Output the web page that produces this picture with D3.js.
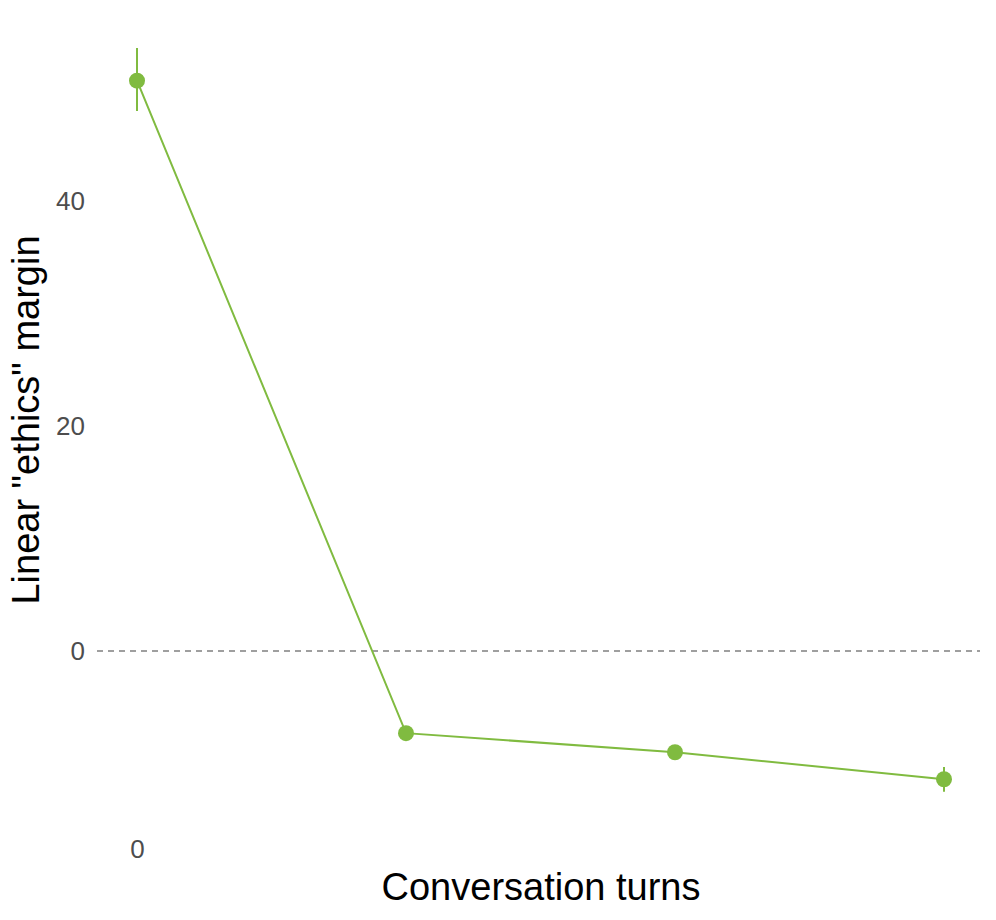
<!DOCTYPE html>
<html><head><meta charset="utf-8">
<script src="https://cdn.jsdelivr.net/npm/d3@7"></script>
<style>body{margin:0;background:#fff}</style></head>
<body><svg id="c" width="996" height="920"></svg>
<script>
const turns = [0, 1, 2, 3];
const margin = [50.7, -7.3, -9.0, -11.4];
const errLow = [48.0, -7.7, -9.4, -12.5];
const errHigh = [53.6, -6.9, -8.6, -10.3];
const xTicks = [0];
const yTicks = [0, 20, 40];

const svg = d3.select("#c");
const x = d3.scaleLinear().domain([0, 3]).range([137, 944]);
const y = d3.scaleLinear().domain([0, 40]).range([651, 201]);
const green = "#80bb40";
const font = "Liberation Sans, Arial, sans-serif";

svg.append("line").attr("x1", 97).attr("x2", 980).attr("y1", y(0)).attr("y2", y(0))
  .attr("stroke", "#808080").attr("stroke-width", 1.6).attr("stroke-dasharray", "6,5");

const ya = svg.append("g").attr("transform", "translate(89,0)")
  .call(d3.axisLeft(y).tickValues(yTicks).tickSize(0).tickPadding(4).tickFormat(d3.format("d")));
ya.select(".domain").remove();
ya.selectAll("text").attr("font-size", 26).attr("font-family", font).attr("fill", "#4d4d4d");

const xa = svg.append("g").attr("transform", "translate(0,836)")
  .call(d3.axisBottom(x).tickValues(xTicks).tickSize(0).tickPadding(4).tickFormat(d3.format("d")));
xa.select(".domain").remove();
xa.selectAll("text").attr("font-size", 26).attr("font-family", font).attr("fill", "#4d4d4d");

svg.append("path").datum(turns)
  .attr("d", d3.line().x(d => x(d)).y((d, i) => y(margin[i])))
  .attr("fill", "none").attr("stroke", green).attr("stroke-width", 2);

svg.selectAll(".eb").data(turns).enter().append("line")
  .attr("x1", d => x(d)).attr("x2", d => x(d))
  .attr("y1", (d, i) => y(errLow[i])).attr("y2", (d, i) => y(errHigh[i]))
  .attr("stroke", green).attr("stroke-width", 2);

svg.selectAll(".pt").data(turns).enter().append("circle")
  .attr("cx", d => x(d)).attr("cy", (d, i) => y(margin[i])).attr("r", 8).attr("fill", green);

svg.append("text").attr("x", 541).attr("y", 900).attr("text-anchor", "middle")
  .attr("font-size", 38).attr("font-family", font).text("Conversation turns");
svg.append("text").attr("transform", "translate(39,420) rotate(-90)").attr("text-anchor", "middle")
  .attr("font-size", 38).attr("font-family", font).text('Linear "ethics" margin');
</script></body></html>
